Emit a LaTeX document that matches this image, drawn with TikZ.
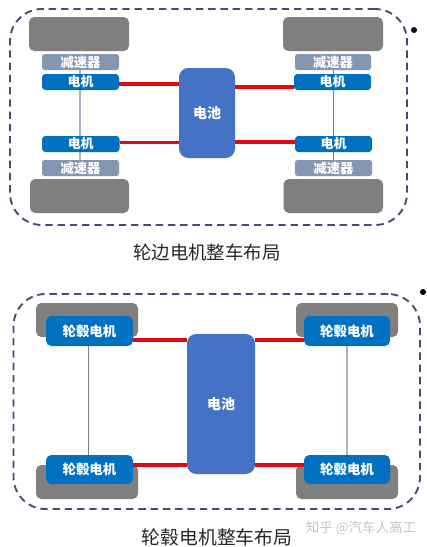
\documentclass[tikz,border=0pt]{standalone}
\usepackage{fontspec}
\setmainfont{Noto Sans CJK SC}
\definecolor{wheelc}{HTML}{7F7F7F}
\definecolor{redc}{HTML}{DD0A14}
\definecolor{reducerc}{HTML}{8497B0}
\definecolor{motorc}{HTML}{0070C0}
\definecolor{batc}{HTML}{4472C4}
\definecolor{framec}{HTML}{3F4E72}
\definecolor{axlec}{HTML}{A9B4CC}
\definecolor{markc}{HTML}{C4C4C4}
\tikzset{
  x=0.75pt,y=-0.75pt,
  bx/.style n args={4}{at={({(#1+#2)/2},{(#3+#4)/2})},minimum width={(#2-#1)*0.75pt},minimum height={(#4-#3)*0.75pt}},
  block/.style={inner sep=0pt,outer sep=0pt,rectangle,rounded corners=#1},
  wheelbox/.style={block=4pt,fill=wheelc},
  reducerbox/.style={block=2pt,fill=reducerc,text=white,font=\fontsize{10pt}{10pt}\selectfont\bfseries},
  motorbox/.style={block=2.5pt,fill=motorc,text=white,font=\fontsize{9.75pt}{10pt}\selectfont\bfseries},
  hubbox/.style={block=4pt,fill=motorc,text=white,font=\fontsize{10.1pt}{11pt}\selectfont\bfseries},
  batbox/.style={block=7pt,fill=batc,text=white,font=\fontsize{10.5pt}{11pt}\selectfont\bfseries},
  hv/.style={line width=2.3pt,draw=redc},
  axleline/.style={line width=#1,draw=axlec},
  framebox/.style={block=24pt,draw=framec,line width=1.4pt,dash pattern=on 5.5pt off 3.7pt},
  caption/.style={inner sep=0pt,text=black!85},
  marker/.style={circle,fill=black,inner sep=0pt,minimum size=4.5pt},
}
\begin{document}
\begin{tikzpicture}
\useasboundingbox (0,0) rectangle (427,547);
% --- top layout
\node[framebox,bx={10}{407}{9}{225}] (f1) {};
\node[marker] (d1) at (414,30) {};
\node[wheelbox,bx={29}{129}{17}{51}] (wa) {};
\node[wheelbox,bx={30}{129}{179}{213}] (wb) {};
\node[wheelbox,bx={283}{383}{17}{51}] (wc) {};
\node[wheelbox,bx={283.5}{383}{179}{213}] (wd) {};
\coordinate (axa) at (80,51);
\coordinate (axb) at (80,179);
\coordinate (axc) at (333.5,51);
\coordinate (axd) at (333.5,179);
\node[reducerbox,bx={42}{119}{54}{70}] (ra) {减速器};
\node[reducerbox,bx={42}{119}{160}{176}] (rb) {减速器};
\node[reducerbox,bx={295}{371}{54}{70}] (rc) {减速器};
\node[reducerbox,bx={295}{372}{160}{176}] (rd) {减速器};
\begin{scope}[on background layer/.style={}]
\draw[axleline=2.2pt] (ra.south -| axa) -- (rb.north -| axb);
\draw[axleline=0.8pt,draw=gray] (rc.south -| axc) -- (rd.north -| axd);
\end{scope}
\node[motorbox,bx={42}{119}{74}{90}] (ma) {电机};
\node[motorbox,bx={42}{119.5}{136}{152}] (mb) {电机};
\node[motorbox,bx={294}{371}{74}{90}] (mc) {电机};
\node[motorbox,bx={295}{372}{136}{152}] (md) {电机};
\node[batbox,bx={179}{235}{68}{158}] (b1) {电池};
\draw[hv] ([yshift=-1.5pt]ma.east) -- ([yshift=-1.5pt]ma.east -| b1.west);
\draw[hv] ([yshift=1.1pt]mb.east) -- ([yshift=1.1pt]mb.east -| b1.west);
\draw[hv] ([yshift=-3.75pt]mc.west) -- ([yshift=-3.75pt]mc.west -| b1.east);
\draw[hv] ([yshift=1.5pt]md.west) -- ([yshift=1.5pt]md.west -| b1.east);
\node[caption,font=\fontsize{13.8pt}{15pt}\selectfont] (c1) at (207,252) {轮边电机整车布局};
% --- bottom layout
\node[framebox,bx={13.5}{420}{294}{509}] (f2) {};
\node[marker] (d2) at (423,292) {};
\node[wheelbox,bx={36}{138}{303}{337}] (we) {};
\node[wheelbox,bx={36}{138}{465}{499}] (wf) {};
\node[wheelbox,bx={296}{398}{303}{337}] (wg) {};
\node[wheelbox,bx={296}{398}{465}{499}] (wh) {};
\node[hubbox,bx={46}{133}{316}{346}] (me) {轮毂电机};
\node[hubbox,bx={46}{133}{455}{484}] (mf) {轮毂电机};
\node[hubbox,bx={304}{390}{316}{346}] (mg) {轮毂电机};
\node[hubbox,bx={304}{390}{455}{484}] (mh) {轮毂电机};
\node[batbox,bx={187}{255}{334}{474}] (b2) {电池};
\draw[axleline=0.8pt,draw=gray] ([xshift=-1.1pt]me.south) -- ([xshift=-1.1pt]mf.north);
\draw[axleline=1pt] (mg.south) -- (mh.north);
\draw[hv] ([yshift=-6.75pt]me.east) -- ([yshift=-6.75pt]me.east -| b2.west);
\draw[hv] ([yshift=3.4pt]mf.east) -- ([yshift=3.4pt]mf.east -| b2.west);
\draw[hv] ([yshift=-6.75pt]mg.west) -- ([yshift=-6.75pt]mg.west -| b2.east);
\draw[hv] ([yshift=3.4pt]mh.west) -- ([yshift=3.4pt]mh.west -| b2.east);
\node[caption,font=\fontsize{14.1pt}{15pt}\selectfont] (c2) at (217,537) {轮毂电机整车布局};
\node[inner sep=0pt,text=markc,font=\fontsize{10.1pt}{11pt}\selectfont] (w) at (361,528) {知乎 @汽车人高工};
\end{tikzpicture}
\end{document}
